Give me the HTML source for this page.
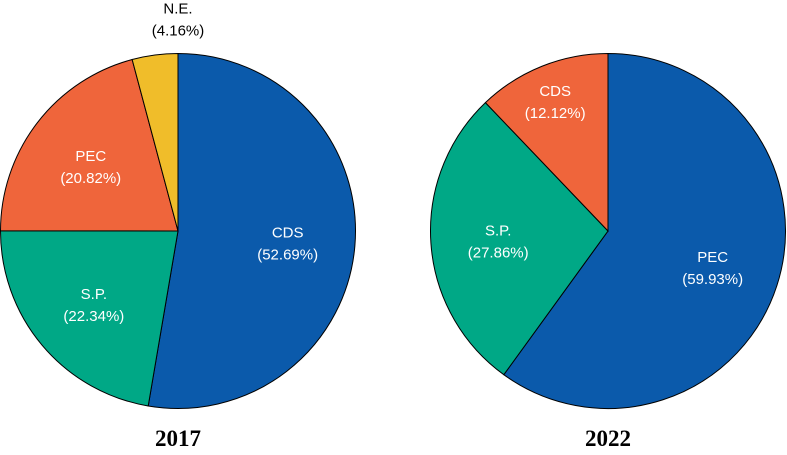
<!DOCTYPE html>
<html><head><meta charset="utf-8"><style>
body{margin:0;background:#fff;width:787px;height:450px;overflow:hidden}
svg text{font-family:"Liberation Sans",sans-serif}
</style></head><body>
<svg id="c" width="787" height="450"></svg>
<script>
const labels2017=["CDS","S.P.","PEC","N.E."];
const values2017=[52.69,22.34,20.82,4.16];
const labels2022=["PEC","S.P.","CDS"];
const values2022=[59.93,27.86,12.12];
const palette=["#0b5aab","#00a886","#ef653b","#f0bd2a"];
const svg=document.getElementById('c');const NS="http://www.w3.org/2000/svg";
function mk(t,a,p){const e=document.createElementNS(NS,t);for(const k in a)e.setAttribute(k,a[k]);(p||svg).appendChild(e);return e;}
function pt(cx,cy,r,f){const a=f*2*Math.PI;return [cx+r*Math.sin(a),cy-r*Math.cos(a)];}
function pie(labels,values,cx,cy,r,title,key){
 const tot=values.reduce((a,b)=>a+b,0);let acc=0;
 values.forEach((v,i)=>{
  const f0=acc/tot,f1=(acc+v)/tot;acc+=v;
  const p0=pt(cx,cy,r,f0),p1=pt(cx,cy,r,f1);const large=(f1-f0)>0.5?1:0;
  const s=mk('path',{d:`M${cx},${cy}L${p0[0]},${p0[1]}A${r},${r} 0 ${large} 1 ${p1[0]},${p1[1]}Z`,fill:palette[i],stroke:'#000','stroke-width':1});
  
  
  const frac=(f1-f0);const mid=(f0+f1)/2;
  let lp,col='#fff';
  if(frac<0.06){lp=[cx,cy-r-37];col='#000';}
  else lp=pt(cx,cy,r*(frac<0.15?0.8:0.62),mid);
  const t=mk('text',{x:lp[0],y:lp[1]-3,'text-anchor':'middle','font-size':15,fill:col});
  t.textContent=labels[i];
  
  
  const t2=mk('text',{x:lp[0],y:lp[1]+19,'text-anchor':'middle','font-size':15,fill:col});
  t2.textContent='('+v.toFixed(2)+'%)';
  
  
 });
 const tt=mk('text',{x:cx,y:446,'text-anchor':'middle','font-size':23,'font-weight':'bold',style:'font-family:"Liberation Serif",serif'});
 tt.textContent=title;
 
 
}
pie(labels2017,values2017,178,231,177.5,"2017","2017");
pie(labels2022,values2022,608,231,177.5,"2022","2022");
</script>
</body></html>
